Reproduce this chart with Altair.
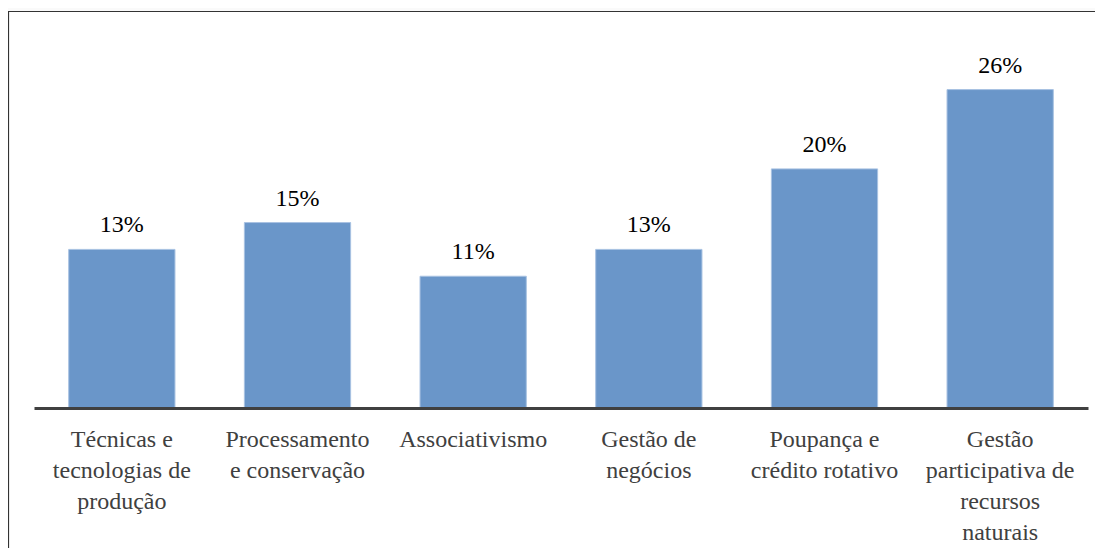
import altair as alt
import pandas as pd

categories = [
    "Técnicas e|tecnologias de|produção",
    "Processamento|e conservação",
    "Associativismo",
    "Gestão de|negócios",
    "Poupança e|crédito rotativo",
    "Gestão|participativa de|recursos|naturais",
]
values = [0.130, 0.152, 0.108, 0.130, 0.196, 0.261]
value_labels = ["13%", "15%", "11%", "13%", "20%", "26%"]

df = pd.DataFrame({"cat": categories, "val": values, "lab": value_labels})

FONT = "'Times New Roman', 'Liberation Serif', 'DejaVu Serif', serif"

x_axis = alt.Axis(
    title=None,
    labelAngle=0,
    labelExpr="split(datum.label, '|')",
    labelFont=FONT,
    labelFontSize=24,
    labelColor="#404040",
    labelLineHeight=31,
    labelPadding=19,
    labelLimit=400,
    labelOverlap=False,
    labelFlush=False,
    ticks=False,
    domainColor="#404040",
    domainWidth=3,
    grid=False,
    zindex=1,
)
x_enc = alt.X(
    "cat:N",
    sort=categories,
    scale=alt.Scale(paddingInner=0.395, paddingOuter=0.1975),
    axis=x_axis,
)
y_enc = alt.Y("val:Q", scale=alt.Scale(domain=[0, 0.30], nice=False), axis=None)

frame = alt.Chart(alt.Data(values=[{"a": 1}])).mark_rect(
    fill="white", stroke="#333333", strokeWidth=1.2
).encode(
    x=alt.value(-25.5), x2=alt.value(1200), y=alt.value(-30.5), y2=alt.value(700)
)

bars = alt.Chart(df).mark_bar(
    color="#6a96c9", stroke="#a8c2e2", strokeWidth=1
).encode(x=x_enc, y=y_enc)

texts = alt.Chart(df).mark_text(
    font=FONT, fontSize=24, color="#000000", baseline="alphabetic", dy=-17
).encode(x=alt.X("cat:N", sort=categories, axis=x_axis), y="val:Q", text="lab:N")

chart = alt.layer(frame, bars, texts).properties(
    width=1054,
    height=366,
    autosize=alt.AutoSizeParams(type="none"),
    padding={"left": 26, "top": 34, "right": 7, "bottom": 140},
    background="#fafafa",
).configure_view(stroke=None)

chart.save("out.html", embed_options={"renderer": "svg", "actions": False})
